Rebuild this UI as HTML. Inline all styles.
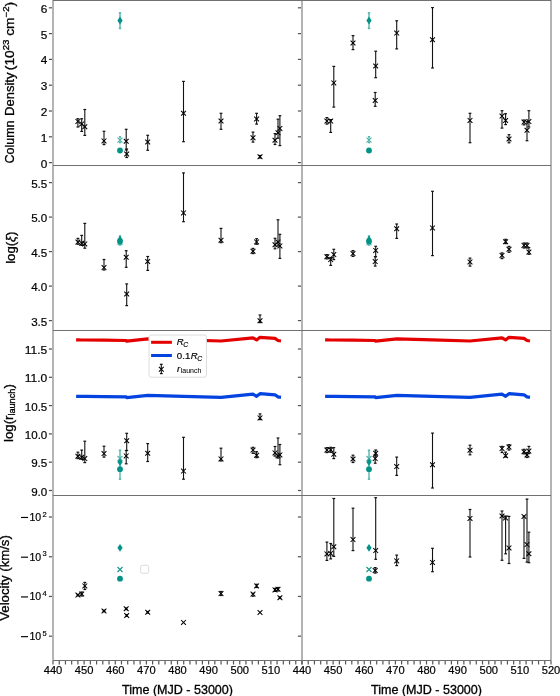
<!DOCTYPE html>
<html><head><meta charset="utf-8"><title>figure</title>
<style>html,body{margin:0;padding:0;background:#fff;}svg{display:block;will-change:transform;}text{stroke:#000;stroke-width:0.18px;fill:#000;}text.big{stroke-width:0.3px;}text.thin{stroke-width:0.05px;}</style>
</head><body>
<svg width="560" height="696" viewBox="0 0 560 696" font-family='"Liberation Sans", sans-serif'>
<rect x="0" y="0" width="560" height="696" fill="#fff"/>
<polyline points="76.10,339.90 77.90,339.90 81.70,340.00 84.80,340.00 104.00,340.20 126.20,340.50 126.70,341.20 147.90,338.90 183.50,339.90 221.00,341.00 253.00,337.80 256.60,339.90 260.00,337.30 275.00,338.40 278.00,340.50 281.00,341.00" fill="none" stroke="#e50000" stroke-width="3.2" stroke-linejoin="round" stroke-linecap="butt"/>
<polyline points="76.10,396.30 77.90,396.30 81.70,396.40 84.80,396.40 104.00,396.60 126.20,396.90 126.70,397.60 147.90,395.30 183.50,396.30 221.00,397.40 253.00,394.20 256.60,396.30 260.00,393.70 275.00,394.80 278.00,396.90 281.00,397.40" fill="none" stroke="#0343df" stroke-width="3.2" stroke-linejoin="round" stroke-linecap="butt"/>
<polyline points="325.10,339.90 326.90,339.90 330.70,340.00 333.80,340.00 353.00,340.20 375.20,340.50 375.70,341.20 396.90,338.90 432.50,339.90 470.00,341.00 502.00,337.80 505.60,339.90 509.00,337.30 524.00,338.40 527.00,340.50 530.00,341.00" fill="none" stroke="#e50000" stroke-width="3.2" stroke-linejoin="round" stroke-linecap="butt"/>
<polyline points="325.10,396.30 326.90,396.30 330.70,396.40 333.80,396.40 353.00,396.60 375.20,396.90 375.70,397.60 396.90,395.30 432.50,396.30 470.00,397.40 502.00,394.20 505.60,396.30 509.00,393.70 524.00,394.80 527.00,396.90 530.00,397.40" fill="none" stroke="#0343df" stroke-width="3.2" stroke-linejoin="round" stroke-linecap="butt"/>
<line x1="120.00" y1="12.90" x2="120.00" y2="28.40" stroke="#55b5ac" stroke-width="1.4"/>
<line x1="118.80" y1="12.90" x2="121.20" y2="12.90" stroke="#55b5ac" stroke-width="1.6"/>
<line x1="118.80" y1="28.40" x2="121.20" y2="28.40" stroke="#55b5ac" stroke-width="1.6"/>
<line x1="120.00" y1="136.70" x2="120.00" y2="142.60" stroke="#55b5ac" stroke-width="1.2"/>
<line x1="118.90" y1="136.70" x2="121.10" y2="136.70" stroke="#55b5ac" stroke-width="1.4"/>
<line x1="118.90" y1="142.60" x2="121.10" y2="142.60" stroke="#55b5ac" stroke-width="1.4"/>
<path d="M117.50,137.70L122.50,142.70M117.50,142.70L122.50,137.70" stroke="#55b5ac" stroke-width="1.15" fill="none"/>
<circle cx="120.00" cy="150.50" r="2.9" fill="#029386"/>
<path d="M120.00,16.60L122.60,20.50L120.00,24.40L117.40,20.50Z" fill="#029386"/>
<line x1="77.90" y1="118.70" x2="77.90" y2="127.00" stroke="#111" stroke-width="1.1"/>
<line x1="76.50" y1="118.70" x2="79.30" y2="118.70" stroke="#111" stroke-width="1.2"/>
<line x1="76.50" y1="127.00" x2="79.30" y2="127.00" stroke="#111" stroke-width="1.2"/>
<path d="M75.50,119.00L80.30,123.80M75.50,123.80L80.30,119.00" stroke="#000" stroke-width="1.05" fill="none"/>
<line x1="81.70" y1="118.70" x2="81.70" y2="131.40" stroke="#111" stroke-width="1.1"/>
<line x1="80.30" y1="118.70" x2="83.10" y2="118.70" stroke="#111" stroke-width="1.2"/>
<line x1="80.30" y1="131.40" x2="83.10" y2="131.40" stroke="#111" stroke-width="1.2"/>
<path d="M79.30,121.50L84.10,126.30M79.30,126.30L84.10,121.50" stroke="#000" stroke-width="1.05" fill="none"/>
<line x1="84.80" y1="109.50" x2="84.80" y2="135.40" stroke="#111" stroke-width="1.1"/>
<line x1="83.40" y1="109.50" x2="86.20" y2="109.50" stroke="#111" stroke-width="1.2"/>
<line x1="83.40" y1="135.40" x2="86.20" y2="135.40" stroke="#111" stroke-width="1.2"/>
<path d="M82.40,124.40L87.20,129.20M82.40,129.20L87.20,124.40" stroke="#000" stroke-width="1.05" fill="none"/>
<line x1="104.00" y1="131.30" x2="104.00" y2="144.60" stroke="#111" stroke-width="1.1"/>
<line x1="102.60" y1="131.30" x2="105.40" y2="131.30" stroke="#111" stroke-width="1.2"/>
<line x1="102.60" y1="144.60" x2="105.40" y2="144.60" stroke="#111" stroke-width="1.2"/>
<path d="M101.60,138.50L106.40,143.30M101.60,143.30L106.40,138.50" stroke="#000" stroke-width="1.05" fill="none"/>
<line x1="126.20" y1="129.30" x2="126.20" y2="150.00" stroke="#111" stroke-width="1.1"/>
<line x1="124.80" y1="129.30" x2="127.60" y2="129.30" stroke="#111" stroke-width="1.2"/>
<line x1="124.80" y1="150.00" x2="127.60" y2="150.00" stroke="#111" stroke-width="1.2"/>
<path d="M123.80,138.90L128.60,143.70M123.80,143.70L128.60,138.90" stroke="#000" stroke-width="1.05" fill="none"/>
<line x1="126.70" y1="149.00" x2="126.70" y2="157.50" stroke="#111" stroke-width="1.1"/>
<line x1="125.30" y1="149.00" x2="128.10" y2="149.00" stroke="#111" stroke-width="1.2"/>
<line x1="125.30" y1="157.50" x2="128.10" y2="157.50" stroke="#111" stroke-width="1.2"/>
<path d="M124.30,151.60L129.10,156.40M124.30,156.40L129.10,151.60" stroke="#000" stroke-width="1.05" fill="none"/>
<line x1="147.70" y1="135.30" x2="147.70" y2="150.30" stroke="#111" stroke-width="1.1"/>
<line x1="146.30" y1="135.30" x2="149.10" y2="135.30" stroke="#111" stroke-width="1.2"/>
<line x1="146.30" y1="150.30" x2="149.10" y2="150.30" stroke="#111" stroke-width="1.2"/>
<path d="M145.30,139.60L150.10,144.40M145.30,144.40L150.10,139.60" stroke="#000" stroke-width="1.05" fill="none"/>
<line x1="183.50" y1="81.40" x2="183.50" y2="141.70" stroke="#111" stroke-width="1.1"/>
<line x1="182.10" y1="81.40" x2="184.90" y2="81.40" stroke="#111" stroke-width="1.2"/>
<line x1="182.10" y1="141.70" x2="184.90" y2="141.70" stroke="#111" stroke-width="1.2"/>
<path d="M181.10,110.90L185.90,115.70M181.10,115.70L185.90,110.90" stroke="#000" stroke-width="1.05" fill="none"/>
<line x1="221.00" y1="113.30" x2="221.00" y2="129.30" stroke="#111" stroke-width="1.1"/>
<line x1="219.60" y1="113.30" x2="222.40" y2="113.30" stroke="#111" stroke-width="1.2"/>
<line x1="219.60" y1="129.30" x2="222.40" y2="129.30" stroke="#111" stroke-width="1.2"/>
<path d="M218.60,118.60L223.40,123.40M218.60,123.40L223.40,118.60" stroke="#000" stroke-width="1.05" fill="none"/>
<line x1="253.00" y1="132.10" x2="253.00" y2="142.10" stroke="#111" stroke-width="1.1"/>
<line x1="251.60" y1="132.10" x2="254.40" y2="132.10" stroke="#111" stroke-width="1.2"/>
<line x1="251.60" y1="142.10" x2="254.40" y2="142.10" stroke="#111" stroke-width="1.2"/>
<path d="M250.60,135.30L255.40,140.10M250.60,140.10L255.40,135.30" stroke="#000" stroke-width="1.05" fill="none"/>
<line x1="256.60" y1="113.30" x2="256.60" y2="124.10" stroke="#111" stroke-width="1.1"/>
<line x1="255.20" y1="113.30" x2="258.00" y2="113.30" stroke="#111" stroke-width="1.2"/>
<line x1="255.20" y1="124.10" x2="258.00" y2="124.10" stroke="#111" stroke-width="1.2"/>
<path d="M254.20,116.60L259.00,121.40M254.20,121.40L259.00,116.60" stroke="#000" stroke-width="1.05" fill="none"/>
<line x1="260.00" y1="155.50" x2="260.00" y2="158.00" stroke="#111" stroke-width="1.1"/>
<line x1="258.60" y1="155.50" x2="261.40" y2="155.50" stroke="#111" stroke-width="1.2"/>
<line x1="258.60" y1="158.00" x2="261.40" y2="158.00" stroke="#111" stroke-width="1.2"/>
<path d="M257.60,154.30L262.40,159.10M257.60,159.10L262.40,154.30" stroke="#000" stroke-width="1.05" fill="none"/>
<line x1="275.00" y1="133.60" x2="275.00" y2="144.50" stroke="#111" stroke-width="1.1"/>
<line x1="273.60" y1="133.60" x2="276.40" y2="133.60" stroke="#111" stroke-width="1.2"/>
<line x1="273.60" y1="144.50" x2="276.40" y2="144.50" stroke="#111" stroke-width="1.2"/>
<path d="M272.60,137.80L277.40,142.60M272.60,142.60L277.40,137.80" stroke="#000" stroke-width="1.05" fill="none"/>
<line x1="278.00" y1="119.20" x2="278.00" y2="138.20" stroke="#111" stroke-width="1.1"/>
<line x1="276.60" y1="119.20" x2="279.40" y2="119.20" stroke="#111" stroke-width="1.2"/>
<line x1="276.60" y1="138.20" x2="279.40" y2="138.20" stroke="#111" stroke-width="1.2"/>
<path d="M275.60,130.30L280.40,135.10M275.60,135.10L280.40,130.30" stroke="#000" stroke-width="1.05" fill="none"/>
<line x1="279.90" y1="115.70" x2="279.90" y2="145.60" stroke="#111" stroke-width="1.1"/>
<line x1="278.50" y1="115.70" x2="281.30" y2="115.70" stroke="#111" stroke-width="1.2"/>
<line x1="278.50" y1="145.60" x2="281.30" y2="145.60" stroke="#111" stroke-width="1.2"/>
<path d="M277.50,126.00L282.30,130.80M277.50,130.80L282.30,126.00" stroke="#000" stroke-width="1.05" fill="none"/>
<line x1="369.00" y1="12.90" x2="369.00" y2="28.40" stroke="#55b5ac" stroke-width="1.4"/>
<line x1="367.80" y1="12.90" x2="370.20" y2="12.90" stroke="#55b5ac" stroke-width="1.6"/>
<line x1="367.80" y1="28.40" x2="370.20" y2="28.40" stroke="#55b5ac" stroke-width="1.6"/>
<line x1="369.00" y1="136.70" x2="369.00" y2="142.60" stroke="#55b5ac" stroke-width="1.2"/>
<line x1="367.90" y1="136.70" x2="370.10" y2="136.70" stroke="#55b5ac" stroke-width="1.4"/>
<line x1="367.90" y1="142.60" x2="370.10" y2="142.60" stroke="#55b5ac" stroke-width="1.4"/>
<path d="M366.50,137.70L371.50,142.70M366.50,142.70L371.50,137.70" stroke="#55b5ac" stroke-width="1.15" fill="none"/>
<circle cx="369.00" cy="150.50" r="2.9" fill="#029386"/>
<path d="M369.00,16.60L371.60,20.50L369.00,24.40L366.40,20.50Z" fill="#029386"/>
<line x1="326.90" y1="117.60" x2="326.90" y2="124.10" stroke="#111" stroke-width="1.1"/>
<line x1="325.50" y1="117.60" x2="328.30" y2="117.60" stroke="#111" stroke-width="1.2"/>
<line x1="325.50" y1="124.10" x2="328.30" y2="124.10" stroke="#111" stroke-width="1.2"/>
<path d="M324.50,118.70L329.30,123.50M324.50,123.50L329.30,118.70" stroke="#000" stroke-width="1.05" fill="none"/>
<line x1="330.70" y1="119.60" x2="330.70" y2="132.40" stroke="#111" stroke-width="1.1"/>
<line x1="329.30" y1="119.60" x2="332.10" y2="119.60" stroke="#111" stroke-width="1.2"/>
<line x1="329.30" y1="132.40" x2="332.10" y2="132.40" stroke="#111" stroke-width="1.2"/>
<path d="M328.30,118.70L333.10,123.50M328.30,123.50L333.10,118.70" stroke="#000" stroke-width="1.05" fill="none"/>
<line x1="333.80" y1="66.40" x2="333.80" y2="107.10" stroke="#111" stroke-width="1.1"/>
<line x1="332.40" y1="66.40" x2="335.20" y2="66.40" stroke="#111" stroke-width="1.2"/>
<line x1="332.40" y1="107.10" x2="335.20" y2="107.10" stroke="#111" stroke-width="1.2"/>
<path d="M331.40,80.50L336.20,85.30M331.40,85.30L336.20,80.50" stroke="#000" stroke-width="1.05" fill="none"/>
<line x1="353.00" y1="35.60" x2="353.00" y2="49.60" stroke="#111" stroke-width="1.1"/>
<line x1="351.60" y1="35.60" x2="354.40" y2="35.60" stroke="#111" stroke-width="1.2"/>
<line x1="351.60" y1="49.60" x2="354.40" y2="49.60" stroke="#111" stroke-width="1.2"/>
<path d="M350.60,40.60L355.40,45.40M350.60,45.40L355.40,40.60" stroke="#000" stroke-width="1.05" fill="none"/>
<line x1="375.20" y1="92.50" x2="375.20" y2="106.30" stroke="#111" stroke-width="1.1"/>
<line x1="373.80" y1="92.50" x2="376.60" y2="92.50" stroke="#111" stroke-width="1.2"/>
<line x1="373.80" y1="106.30" x2="376.60" y2="106.30" stroke="#111" stroke-width="1.2"/>
<path d="M372.80,98.10L377.60,102.90M372.80,102.90L377.60,98.10" stroke="#000" stroke-width="1.05" fill="none"/>
<line x1="375.70" y1="51.20" x2="375.70" y2="77.70" stroke="#111" stroke-width="1.1"/>
<line x1="374.30" y1="51.20" x2="377.10" y2="51.20" stroke="#111" stroke-width="1.2"/>
<line x1="374.30" y1="77.70" x2="377.10" y2="77.70" stroke="#111" stroke-width="1.2"/>
<path d="M373.30,63.60L378.10,68.40M373.30,68.40L378.10,63.60" stroke="#000" stroke-width="1.05" fill="none"/>
<line x1="396.70" y1="20.80" x2="396.70" y2="48.90" stroke="#111" stroke-width="1.1"/>
<line x1="395.30" y1="20.80" x2="398.10" y2="20.80" stroke="#111" stroke-width="1.2"/>
<line x1="395.30" y1="48.90" x2="398.10" y2="48.90" stroke="#111" stroke-width="1.2"/>
<path d="M394.30,30.70L399.10,35.50M394.30,35.50L399.10,30.70" stroke="#000" stroke-width="1.05" fill="none"/>
<line x1="432.50" y1="7.60" x2="432.50" y2="68.00" stroke="#111" stroke-width="1.1"/>
<line x1="431.10" y1="7.60" x2="433.90" y2="7.60" stroke="#111" stroke-width="1.2"/>
<line x1="431.10" y1="68.00" x2="433.90" y2="68.00" stroke="#111" stroke-width="1.2"/>
<path d="M430.10,37.40L434.90,42.20M430.10,42.20L434.90,37.40" stroke="#000" stroke-width="1.05" fill="none"/>
<line x1="470.00" y1="113.30" x2="470.00" y2="142.70" stroke="#111" stroke-width="1.1"/>
<line x1="468.60" y1="113.30" x2="471.40" y2="113.30" stroke="#111" stroke-width="1.2"/>
<line x1="468.60" y1="142.70" x2="471.40" y2="142.70" stroke="#111" stroke-width="1.2"/>
<path d="M467.60,118.00L472.40,122.80M467.60,122.80L472.40,118.00" stroke="#000" stroke-width="1.05" fill="none"/>
<line x1="502.00" y1="110.70" x2="502.00" y2="128.10" stroke="#111" stroke-width="1.1"/>
<line x1="500.60" y1="110.70" x2="503.40" y2="110.70" stroke="#111" stroke-width="1.2"/>
<line x1="500.60" y1="128.10" x2="503.40" y2="128.10" stroke="#111" stroke-width="1.2"/>
<path d="M499.60,113.70L504.40,118.50M499.60,118.50L504.40,113.70" stroke="#000" stroke-width="1.05" fill="none"/>
<line x1="505.60" y1="113.70" x2="505.60" y2="124.60" stroke="#111" stroke-width="1.1"/>
<line x1="504.20" y1="113.70" x2="507.00" y2="113.70" stroke="#111" stroke-width="1.2"/>
<line x1="504.20" y1="124.60" x2="507.00" y2="124.60" stroke="#111" stroke-width="1.2"/>
<path d="M503.20,118.10L508.00,122.90M503.20,122.90L508.00,118.10" stroke="#000" stroke-width="1.05" fill="none"/>
<line x1="509.00" y1="134.70" x2="509.00" y2="142.80" stroke="#111" stroke-width="1.1"/>
<line x1="507.60" y1="134.70" x2="510.40" y2="134.70" stroke="#111" stroke-width="1.2"/>
<line x1="507.60" y1="142.80" x2="510.40" y2="142.80" stroke="#111" stroke-width="1.2"/>
<path d="M506.60,136.60L511.40,141.40M506.60,141.40L511.40,136.60" stroke="#000" stroke-width="1.05" fill="none"/>
<line x1="524.00" y1="120.00" x2="524.00" y2="124.90" stroke="#111" stroke-width="1.1"/>
<line x1="522.60" y1="120.00" x2="525.40" y2="120.00" stroke="#111" stroke-width="1.2"/>
<line x1="522.60" y1="124.90" x2="525.40" y2="124.90" stroke="#111" stroke-width="1.2"/>
<path d="M521.60,119.70L526.40,124.50M521.60,124.50L526.40,119.70" stroke="#000" stroke-width="1.05" fill="none"/>
<line x1="527.00" y1="121.60" x2="527.00" y2="140.70" stroke="#111" stroke-width="1.1"/>
<line x1="525.60" y1="121.60" x2="528.40" y2="121.60" stroke="#111" stroke-width="1.2"/>
<line x1="525.60" y1="140.70" x2="528.40" y2="140.70" stroke="#111" stroke-width="1.2"/>
<path d="M524.60,127.90L529.40,132.70M524.60,132.70L529.40,127.90" stroke="#000" stroke-width="1.05" fill="none"/>
<line x1="528.90" y1="110.70" x2="528.90" y2="127.00" stroke="#111" stroke-width="1.1"/>
<line x1="527.50" y1="110.70" x2="530.30" y2="110.70" stroke="#111" stroke-width="1.2"/>
<line x1="527.50" y1="127.00" x2="530.30" y2="127.00" stroke="#111" stroke-width="1.2"/>
<path d="M526.50,119.20L531.30,124.00M526.50,124.00L531.30,119.20" stroke="#000" stroke-width="1.05" fill="none"/>
<line x1="120.00" y1="236.00" x2="120.00" y2="245.00" stroke="#55b5ac" stroke-width="1.4"/>
<line x1="118.80" y1="236.00" x2="121.20" y2="236.00" stroke="#55b5ac" stroke-width="1.6"/>
<line x1="118.80" y1="245.00" x2="121.20" y2="245.00" stroke="#55b5ac" stroke-width="1.6"/>
<path d="M117.50,240.10L122.50,245.10M117.50,245.10L122.50,240.10" stroke="#55b5ac" stroke-width="1.15" fill="none"/>
<circle cx="120.00" cy="241.40" r="2.9" fill="#029386"/>
<path d="M120.00,235.70L122.60,239.60L120.00,243.50L117.40,239.60Z" fill="#029386"/>
<line x1="77.90" y1="238.40" x2="77.90" y2="244.30" stroke="#111" stroke-width="1.1"/>
<line x1="76.50" y1="238.40" x2="79.30" y2="238.40" stroke="#111" stroke-width="1.2"/>
<line x1="76.50" y1="244.30" x2="79.30" y2="244.30" stroke="#111" stroke-width="1.2"/>
<path d="M75.50,239.70L80.30,244.50M75.50,244.50L80.30,239.70" stroke="#000" stroke-width="1.05" fill="none"/>
<line x1="81.70" y1="235.40" x2="81.70" y2="245.40" stroke="#111" stroke-width="1.1"/>
<line x1="80.30" y1="235.40" x2="83.10" y2="235.40" stroke="#111" stroke-width="1.2"/>
<line x1="80.30" y1="245.40" x2="83.10" y2="245.40" stroke="#111" stroke-width="1.2"/>
<path d="M79.30,240.80L84.10,245.60M79.30,245.60L84.10,240.80" stroke="#000" stroke-width="1.05" fill="none"/>
<line x1="84.80" y1="223.40" x2="84.80" y2="248.20" stroke="#111" stroke-width="1.1"/>
<line x1="83.40" y1="223.40" x2="86.20" y2="223.40" stroke="#111" stroke-width="1.2"/>
<line x1="83.40" y1="248.20" x2="86.20" y2="248.20" stroke="#111" stroke-width="1.2"/>
<path d="M82.40,241.50L87.20,246.30M82.40,246.30L87.20,241.50" stroke="#000" stroke-width="1.05" fill="none"/>
<line x1="104.00" y1="259.50" x2="104.00" y2="270.00" stroke="#111" stroke-width="1.1"/>
<line x1="102.60" y1="259.50" x2="105.40" y2="259.50" stroke="#111" stroke-width="1.2"/>
<line x1="102.60" y1="270.00" x2="105.40" y2="270.00" stroke="#111" stroke-width="1.2"/>
<path d="M101.60,265.20L106.40,270.00M101.60,270.00L106.40,265.20" stroke="#000" stroke-width="1.05" fill="none"/>
<line x1="126.20" y1="250.70" x2="126.20" y2="267.30" stroke="#111" stroke-width="1.1"/>
<line x1="124.80" y1="250.70" x2="127.60" y2="250.70" stroke="#111" stroke-width="1.2"/>
<line x1="124.80" y1="267.30" x2="127.60" y2="267.30" stroke="#111" stroke-width="1.2"/>
<path d="M123.80,254.80L128.60,259.60M123.80,259.60L128.60,254.80" stroke="#000" stroke-width="1.05" fill="none"/>
<line x1="126.70" y1="283.90" x2="126.70" y2="305.60" stroke="#111" stroke-width="1.1"/>
<line x1="125.30" y1="283.90" x2="128.10" y2="283.90" stroke="#111" stroke-width="1.2"/>
<line x1="125.30" y1="305.60" x2="128.10" y2="305.60" stroke="#111" stroke-width="1.2"/>
<path d="M124.30,291.60L129.10,296.40M124.30,296.40L129.10,291.60" stroke="#000" stroke-width="1.05" fill="none"/>
<line x1="147.70" y1="256.50" x2="147.70" y2="270.40" stroke="#111" stroke-width="1.1"/>
<line x1="146.30" y1="256.50" x2="149.10" y2="256.50" stroke="#111" stroke-width="1.2"/>
<line x1="146.30" y1="270.40" x2="149.10" y2="270.40" stroke="#111" stroke-width="1.2"/>
<path d="M145.30,259.10L150.10,263.90M145.30,263.90L150.10,259.10" stroke="#000" stroke-width="1.05" fill="none"/>
<line x1="183.50" y1="172.90" x2="183.50" y2="221.70" stroke="#111" stroke-width="1.1"/>
<line x1="182.10" y1="172.90" x2="184.90" y2="172.90" stroke="#111" stroke-width="1.2"/>
<line x1="182.10" y1="221.70" x2="184.90" y2="221.70" stroke="#111" stroke-width="1.2"/>
<path d="M181.10,210.50L185.90,215.30M181.10,215.30L185.90,210.50" stroke="#000" stroke-width="1.05" fill="none"/>
<line x1="221.00" y1="228.40" x2="221.00" y2="242.70" stroke="#111" stroke-width="1.1"/>
<line x1="219.60" y1="228.40" x2="222.40" y2="228.40" stroke="#111" stroke-width="1.2"/>
<line x1="219.60" y1="242.70" x2="222.40" y2="242.70" stroke="#111" stroke-width="1.2"/>
<path d="M218.60,237.90L223.40,242.70M218.60,242.70L223.40,237.90" stroke="#000" stroke-width="1.05" fill="none"/>
<line x1="253.00" y1="248.40" x2="253.00" y2="253.60" stroke="#111" stroke-width="1.1"/>
<line x1="251.60" y1="248.40" x2="254.40" y2="248.40" stroke="#111" stroke-width="1.2"/>
<line x1="251.60" y1="253.60" x2="254.40" y2="253.60" stroke="#111" stroke-width="1.2"/>
<path d="M250.60,248.80L255.40,253.60M250.60,253.60L255.40,248.80" stroke="#000" stroke-width="1.05" fill="none"/>
<line x1="256.60" y1="238.70" x2="256.60" y2="244.30" stroke="#111" stroke-width="1.1"/>
<line x1="255.20" y1="238.70" x2="258.00" y2="238.70" stroke="#111" stroke-width="1.2"/>
<line x1="255.20" y1="244.30" x2="258.00" y2="244.30" stroke="#111" stroke-width="1.2"/>
<path d="M254.20,239.50L259.00,244.30M254.20,244.30L259.00,239.50" stroke="#000" stroke-width="1.05" fill="none"/>
<line x1="260.00" y1="315.00" x2="260.00" y2="322.60" stroke="#111" stroke-width="1.1"/>
<line x1="258.60" y1="315.00" x2="261.40" y2="315.00" stroke="#111" stroke-width="1.2"/>
<line x1="258.60" y1="322.60" x2="261.40" y2="322.60" stroke="#111" stroke-width="1.2"/>
<path d="M257.60,318.40L262.40,323.20M257.60,323.20L262.40,318.40" stroke="#000" stroke-width="1.05" fill="none"/>
<line x1="275.00" y1="238.30" x2="275.00" y2="248.80" stroke="#111" stroke-width="1.1"/>
<line x1="273.60" y1="238.30" x2="276.40" y2="238.30" stroke="#111" stroke-width="1.2"/>
<line x1="273.60" y1="248.80" x2="276.40" y2="248.80" stroke="#111" stroke-width="1.2"/>
<path d="M272.60,242.30L277.40,247.10M272.60,247.10L277.40,242.30" stroke="#000" stroke-width="1.05" fill="none"/>
<line x1="278.00" y1="219.80" x2="278.00" y2="246.00" stroke="#111" stroke-width="1.1"/>
<line x1="276.60" y1="219.80" x2="279.40" y2="219.80" stroke="#111" stroke-width="1.2"/>
<line x1="276.60" y1="246.00" x2="279.40" y2="246.00" stroke="#111" stroke-width="1.2"/>
<path d="M275.60,239.60L280.40,244.40M275.60,244.40L280.40,239.60" stroke="#000" stroke-width="1.05" fill="none"/>
<line x1="279.90" y1="234.30" x2="279.90" y2="258.40" stroke="#111" stroke-width="1.1"/>
<line x1="278.50" y1="234.30" x2="281.30" y2="234.30" stroke="#111" stroke-width="1.2"/>
<line x1="278.50" y1="258.40" x2="281.30" y2="258.40" stroke="#111" stroke-width="1.2"/>
<path d="M277.50,243.50L282.30,248.30M277.50,248.30L282.30,243.50" stroke="#000" stroke-width="1.05" fill="none"/>
<line x1="369.00" y1="236.00" x2="369.00" y2="245.00" stroke="#55b5ac" stroke-width="1.4"/>
<line x1="367.80" y1="236.00" x2="370.20" y2="236.00" stroke="#55b5ac" stroke-width="1.6"/>
<line x1="367.80" y1="245.00" x2="370.20" y2="245.00" stroke="#55b5ac" stroke-width="1.6"/>
<path d="M366.50,240.10L371.50,245.10M366.50,245.10L371.50,240.10" stroke="#55b5ac" stroke-width="1.15" fill="none"/>
<circle cx="369.00" cy="241.40" r="2.9" fill="#029386"/>
<path d="M369.00,235.70L371.60,239.60L369.00,243.50L366.40,239.60Z" fill="#029386"/>
<line x1="326.90" y1="254.60" x2="326.90" y2="258.90" stroke="#111" stroke-width="1.1"/>
<line x1="325.50" y1="254.60" x2="328.30" y2="254.60" stroke="#111" stroke-width="1.2"/>
<line x1="325.50" y1="258.90" x2="328.30" y2="258.90" stroke="#111" stroke-width="1.2"/>
<path d="M324.50,254.40L329.30,259.20M324.50,259.20L329.30,254.40" stroke="#000" stroke-width="1.05" fill="none"/>
<line x1="330.70" y1="257.50" x2="330.70" y2="265.40" stroke="#111" stroke-width="1.1"/>
<line x1="329.30" y1="257.50" x2="332.10" y2="257.50" stroke="#111" stroke-width="1.2"/>
<line x1="329.30" y1="265.40" x2="332.10" y2="265.40" stroke="#111" stroke-width="1.2"/>
<path d="M328.30,257.20L333.10,262.00M328.30,262.00L333.10,257.20" stroke="#000" stroke-width="1.05" fill="none"/>
<line x1="333.80" y1="249.30" x2="333.80" y2="259.60" stroke="#111" stroke-width="1.1"/>
<line x1="332.40" y1="249.30" x2="335.20" y2="249.30" stroke="#111" stroke-width="1.2"/>
<line x1="332.40" y1="259.60" x2="335.20" y2="259.60" stroke="#111" stroke-width="1.2"/>
<path d="M331.40,252.20L336.20,257.00M331.40,257.00L336.20,252.20" stroke="#000" stroke-width="1.05" fill="none"/>
<line x1="353.00" y1="250.60" x2="353.00" y2="256.40" stroke="#111" stroke-width="1.1"/>
<line x1="351.60" y1="250.60" x2="354.40" y2="250.60" stroke="#111" stroke-width="1.2"/>
<line x1="351.60" y1="256.40" x2="354.40" y2="256.40" stroke="#111" stroke-width="1.2"/>
<path d="M350.60,251.20L355.40,256.00M350.60,256.00L355.40,251.20" stroke="#000" stroke-width="1.05" fill="none"/>
<line x1="375.20" y1="256.70" x2="375.20" y2="266.10" stroke="#111" stroke-width="1.1"/>
<line x1="373.80" y1="256.70" x2="376.60" y2="256.70" stroke="#111" stroke-width="1.2"/>
<line x1="373.80" y1="266.10" x2="376.60" y2="266.10" stroke="#111" stroke-width="1.2"/>
<path d="M372.80,259.20L377.60,264.00M372.80,264.00L377.60,259.20" stroke="#000" stroke-width="1.05" fill="none"/>
<line x1="375.70" y1="246.30" x2="375.70" y2="256.70" stroke="#111" stroke-width="1.1"/>
<line x1="374.30" y1="246.30" x2="377.10" y2="246.30" stroke="#111" stroke-width="1.2"/>
<line x1="374.30" y1="256.70" x2="377.10" y2="256.70" stroke="#111" stroke-width="1.2"/>
<path d="M373.30,248.00L378.10,252.80M373.30,252.80L378.10,248.00" stroke="#000" stroke-width="1.05" fill="none"/>
<line x1="396.70" y1="224.00" x2="396.70" y2="238.40" stroke="#111" stroke-width="1.1"/>
<line x1="395.30" y1="224.00" x2="398.10" y2="224.00" stroke="#111" stroke-width="1.2"/>
<line x1="395.30" y1="238.40" x2="398.10" y2="238.40" stroke="#111" stroke-width="1.2"/>
<path d="M394.30,226.40L399.10,231.20M394.30,231.20L399.10,226.40" stroke="#000" stroke-width="1.05" fill="none"/>
<line x1="432.50" y1="191.30" x2="432.50" y2="255.60" stroke="#111" stroke-width="1.1"/>
<line x1="431.10" y1="191.30" x2="433.90" y2="191.30" stroke="#111" stroke-width="1.2"/>
<line x1="431.10" y1="255.60" x2="433.90" y2="255.60" stroke="#111" stroke-width="1.2"/>
<path d="M430.10,225.50L434.90,230.30M430.10,230.30L434.90,225.50" stroke="#000" stroke-width="1.05" fill="none"/>
<line x1="470.00" y1="258.10" x2="470.00" y2="266.10" stroke="#111" stroke-width="1.1"/>
<line x1="468.60" y1="258.10" x2="471.40" y2="258.10" stroke="#111" stroke-width="1.2"/>
<line x1="468.60" y1="266.10" x2="471.40" y2="266.10" stroke="#111" stroke-width="1.2"/>
<path d="M467.60,259.50L472.40,264.30M467.60,264.30L472.40,259.50" stroke="#000" stroke-width="1.05" fill="none"/>
<line x1="502.00" y1="252.90" x2="502.00" y2="258.60" stroke="#111" stroke-width="1.1"/>
<line x1="500.60" y1="252.90" x2="503.40" y2="252.90" stroke="#111" stroke-width="1.2"/>
<line x1="500.60" y1="258.60" x2="503.40" y2="258.60" stroke="#111" stroke-width="1.2"/>
<path d="M499.60,253.00L504.40,257.80M499.60,257.80L504.40,253.00" stroke="#000" stroke-width="1.05" fill="none"/>
<line x1="505.60" y1="239.30" x2="505.60" y2="243.60" stroke="#111" stroke-width="1.1"/>
<line x1="504.20" y1="239.30" x2="507.00" y2="239.30" stroke="#111" stroke-width="1.2"/>
<line x1="504.20" y1="243.60" x2="507.00" y2="243.60" stroke="#111" stroke-width="1.2"/>
<path d="M503.20,239.40L508.00,244.20M503.20,244.20L508.00,239.40" stroke="#000" stroke-width="1.05" fill="none"/>
<line x1="509.00" y1="246.40" x2="509.00" y2="252.30" stroke="#111" stroke-width="1.1"/>
<line x1="507.60" y1="246.40" x2="510.40" y2="246.40" stroke="#111" stroke-width="1.2"/>
<line x1="507.60" y1="252.30" x2="510.40" y2="252.30" stroke="#111" stroke-width="1.2"/>
<path d="M506.60,246.90L511.40,251.70M506.60,251.70L511.40,246.90" stroke="#000" stroke-width="1.05" fill="none"/>
<line x1="524.00" y1="243.00" x2="524.00" y2="248.00" stroke="#111" stroke-width="1.1"/>
<line x1="522.60" y1="243.00" x2="525.40" y2="243.00" stroke="#111" stroke-width="1.2"/>
<line x1="522.60" y1="248.00" x2="525.40" y2="248.00" stroke="#111" stroke-width="1.2"/>
<path d="M521.60,243.00L526.40,247.80M521.60,247.80L526.40,243.00" stroke="#000" stroke-width="1.05" fill="none"/>
<line x1="527.00" y1="243.00" x2="527.00" y2="248.00" stroke="#111" stroke-width="1.1"/>
<line x1="525.60" y1="243.00" x2="528.40" y2="243.00" stroke="#111" stroke-width="1.2"/>
<line x1="525.60" y1="248.00" x2="528.40" y2="248.00" stroke="#111" stroke-width="1.2"/>
<path d="M524.60,243.20L529.40,248.00M524.60,248.00L529.40,243.20" stroke="#000" stroke-width="1.05" fill="none"/>
<line x1="528.90" y1="247.50" x2="528.90" y2="254.30" stroke="#111" stroke-width="1.1"/>
<line x1="527.50" y1="247.50" x2="530.30" y2="247.50" stroke="#111" stroke-width="1.2"/>
<line x1="527.50" y1="254.30" x2="530.30" y2="254.30" stroke="#111" stroke-width="1.2"/>
<path d="M526.50,249.70L531.30,254.50M526.50,254.50L531.30,249.70" stroke="#000" stroke-width="1.05" fill="none"/>
<line x1="120.00" y1="450.30" x2="120.00" y2="479.10" stroke="#55b5ac" stroke-width="1.4"/>
<line x1="118.80" y1="450.30" x2="121.20" y2="450.30" stroke="#55b5ac" stroke-width="1.6"/>
<line x1="118.80" y1="479.10" x2="121.20" y2="479.10" stroke="#55b5ac" stroke-width="1.6"/>
<path d="M117.50,456.00L122.50,461.00M117.50,461.00L122.50,456.00" stroke="#55b5ac" stroke-width="1.15" fill="none"/>
<circle cx="120.00" cy="469.20" r="2.9" fill="#029386"/>
<path d="M120.00,458.20L122.60,462.10L120.00,466.00L117.40,462.10Z" fill="#029386"/>
<line x1="77.90" y1="452.20" x2="77.90" y2="458.60" stroke="#111" stroke-width="1.1"/>
<line x1="76.50" y1="452.20" x2="79.30" y2="452.20" stroke="#111" stroke-width="1.2"/>
<line x1="76.50" y1="458.60" x2="79.30" y2="458.60" stroke="#111" stroke-width="1.2"/>
<path d="M75.50,453.80L80.30,458.60M75.50,458.60L80.30,453.80" stroke="#000" stroke-width="1.05" fill="none"/>
<line x1="81.70" y1="450.10" x2="81.70" y2="459.40" stroke="#111" stroke-width="1.1"/>
<line x1="80.30" y1="450.10" x2="83.10" y2="450.10" stroke="#111" stroke-width="1.2"/>
<line x1="80.30" y1="459.40" x2="83.10" y2="459.40" stroke="#111" stroke-width="1.2"/>
<path d="M79.30,454.90L84.10,459.70M79.30,459.70L84.10,454.90" stroke="#000" stroke-width="1.05" fill="none"/>
<line x1="84.80" y1="441.20" x2="84.80" y2="462.60" stroke="#111" stroke-width="1.1"/>
<line x1="83.40" y1="441.20" x2="86.20" y2="441.20" stroke="#111" stroke-width="1.2"/>
<line x1="83.40" y1="462.60" x2="86.20" y2="462.60" stroke="#111" stroke-width="1.2"/>
<path d="M82.40,456.20L87.20,461.00M82.40,461.00L87.20,456.20" stroke="#000" stroke-width="1.05" fill="none"/>
<line x1="104.00" y1="446.20" x2="104.00" y2="457.10" stroke="#111" stroke-width="1.1"/>
<line x1="102.60" y1="446.20" x2="105.40" y2="446.20" stroke="#111" stroke-width="1.2"/>
<line x1="102.60" y1="457.10" x2="105.40" y2="457.10" stroke="#111" stroke-width="1.2"/>
<path d="M101.60,451.20L106.40,456.00M101.60,456.00L106.40,451.20" stroke="#000" stroke-width="1.05" fill="none"/>
<line x1="126.20" y1="450.50" x2="126.20" y2="463.80" stroke="#111" stroke-width="1.1"/>
<line x1="124.80" y1="450.50" x2="127.60" y2="450.50" stroke="#111" stroke-width="1.2"/>
<line x1="124.80" y1="463.80" x2="127.60" y2="463.80" stroke="#111" stroke-width="1.2"/>
<path d="M123.80,453.50L128.60,458.30M123.80,458.30L128.60,453.50" stroke="#000" stroke-width="1.05" fill="none"/>
<line x1="126.70" y1="433.30" x2="126.70" y2="450.50" stroke="#111" stroke-width="1.1"/>
<line x1="125.30" y1="433.30" x2="128.10" y2="433.30" stroke="#111" stroke-width="1.2"/>
<line x1="125.30" y1="450.50" x2="128.10" y2="450.50" stroke="#111" stroke-width="1.2"/>
<path d="M124.30,438.40L129.10,443.20M124.30,443.20L129.10,438.40" stroke="#000" stroke-width="1.05" fill="none"/>
<line x1="147.70" y1="443.60" x2="147.70" y2="461.50" stroke="#111" stroke-width="1.1"/>
<line x1="146.30" y1="443.60" x2="149.10" y2="443.60" stroke="#111" stroke-width="1.2"/>
<line x1="146.30" y1="461.50" x2="149.10" y2="461.50" stroke="#111" stroke-width="1.2"/>
<path d="M145.30,450.90L150.10,455.70M145.30,455.70L150.10,450.90" stroke="#000" stroke-width="1.05" fill="none"/>
<line x1="183.50" y1="437.30" x2="183.50" y2="479.20" stroke="#111" stroke-width="1.1"/>
<line x1="182.10" y1="437.30" x2="184.90" y2="437.30" stroke="#111" stroke-width="1.2"/>
<line x1="182.10" y1="479.20" x2="184.90" y2="479.20" stroke="#111" stroke-width="1.2"/>
<path d="M181.10,468.70L185.90,473.50M181.10,473.50L185.90,468.70" stroke="#000" stroke-width="1.05" fill="none"/>
<line x1="221.00" y1="448.20" x2="221.00" y2="461.00" stroke="#111" stroke-width="1.1"/>
<line x1="219.60" y1="448.20" x2="222.40" y2="448.20" stroke="#111" stroke-width="1.2"/>
<line x1="219.60" y1="461.00" x2="222.40" y2="461.00" stroke="#111" stroke-width="1.2"/>
<path d="M218.60,456.50L223.40,461.30M218.60,461.30L223.40,456.50" stroke="#000" stroke-width="1.05" fill="none"/>
<line x1="253.00" y1="447.30" x2="253.00" y2="453.30" stroke="#111" stroke-width="1.1"/>
<line x1="251.60" y1="447.30" x2="254.40" y2="447.30" stroke="#111" stroke-width="1.2"/>
<line x1="251.60" y1="453.30" x2="254.40" y2="453.30" stroke="#111" stroke-width="1.2"/>
<path d="M250.60,447.70L255.40,452.50M250.60,452.50L255.40,447.70" stroke="#000" stroke-width="1.05" fill="none"/>
<line x1="256.60" y1="451.70" x2="256.60" y2="457.70" stroke="#111" stroke-width="1.1"/>
<line x1="255.20" y1="451.70" x2="258.00" y2="451.70" stroke="#111" stroke-width="1.2"/>
<line x1="255.20" y1="457.70" x2="258.00" y2="457.70" stroke="#111" stroke-width="1.2"/>
<path d="M254.20,452.90L259.00,457.70M254.20,457.70L259.00,452.90" stroke="#000" stroke-width="1.05" fill="none"/>
<line x1="260.00" y1="413.90" x2="260.00" y2="419.60" stroke="#111" stroke-width="1.1"/>
<line x1="258.60" y1="413.90" x2="261.40" y2="413.90" stroke="#111" stroke-width="1.2"/>
<line x1="258.60" y1="419.60" x2="261.40" y2="419.60" stroke="#111" stroke-width="1.2"/>
<path d="M257.60,415.50L262.40,420.30M257.60,420.30L262.40,415.50" stroke="#000" stroke-width="1.05" fill="none"/>
<line x1="275.00" y1="446.50" x2="275.00" y2="456.10" stroke="#111" stroke-width="1.1"/>
<line x1="273.60" y1="446.50" x2="276.40" y2="446.50" stroke="#111" stroke-width="1.2"/>
<line x1="273.60" y1="456.10" x2="276.40" y2="456.10" stroke="#111" stroke-width="1.2"/>
<path d="M272.60,450.50L277.40,455.30M272.60,455.30L277.40,450.50" stroke="#000" stroke-width="1.05" fill="none"/>
<line x1="278.00" y1="438.00" x2="278.00" y2="458.10" stroke="#111" stroke-width="1.1"/>
<line x1="276.60" y1="438.00" x2="279.40" y2="438.00" stroke="#111" stroke-width="1.2"/>
<line x1="276.60" y1="458.10" x2="279.40" y2="458.10" stroke="#111" stroke-width="1.2"/>
<path d="M275.60,453.30L280.40,458.10M275.60,458.10L280.40,453.30" stroke="#000" stroke-width="1.05" fill="none"/>
<line x1="279.90" y1="444.50" x2="279.90" y2="464.70" stroke="#111" stroke-width="1.1"/>
<line x1="278.50" y1="444.50" x2="281.30" y2="444.50" stroke="#111" stroke-width="1.2"/>
<line x1="278.50" y1="464.70" x2="281.30" y2="464.70" stroke="#111" stroke-width="1.2"/>
<path d="M277.50,452.50L282.30,457.30M277.50,457.30L282.30,452.50" stroke="#000" stroke-width="1.05" fill="none"/>
<line x1="369.00" y1="450.30" x2="369.00" y2="479.10" stroke="#55b5ac" stroke-width="1.4"/>
<line x1="367.80" y1="450.30" x2="370.20" y2="450.30" stroke="#55b5ac" stroke-width="1.6"/>
<line x1="367.80" y1="479.10" x2="370.20" y2="479.10" stroke="#55b5ac" stroke-width="1.6"/>
<path d="M366.50,456.00L371.50,461.00M366.50,461.00L371.50,456.00" stroke="#55b5ac" stroke-width="1.15" fill="none"/>
<circle cx="369.00" cy="469.20" r="2.9" fill="#029386"/>
<path d="M369.00,458.20L371.60,462.10L369.00,466.00L366.40,462.10Z" fill="#029386"/>
<line x1="326.90" y1="447.60" x2="326.90" y2="452.60" stroke="#111" stroke-width="1.1"/>
<line x1="325.50" y1="447.60" x2="328.30" y2="447.60" stroke="#111" stroke-width="1.2"/>
<line x1="325.50" y1="452.60" x2="328.30" y2="452.60" stroke="#111" stroke-width="1.2"/>
<path d="M324.50,447.70L329.30,452.50M324.50,452.50L329.30,447.70" stroke="#000" stroke-width="1.05" fill="none"/>
<line x1="330.70" y1="447.30" x2="330.70" y2="452.30" stroke="#111" stroke-width="1.1"/>
<line x1="329.30" y1="447.30" x2="332.10" y2="447.30" stroke="#111" stroke-width="1.2"/>
<line x1="329.30" y1="452.30" x2="332.10" y2="452.30" stroke="#111" stroke-width="1.2"/>
<path d="M328.30,447.40L333.10,452.20M328.30,452.20L333.10,447.40" stroke="#000" stroke-width="1.05" fill="none"/>
<line x1="333.80" y1="447.60" x2="333.80" y2="458.60" stroke="#111" stroke-width="1.1"/>
<line x1="332.40" y1="447.60" x2="335.20" y2="447.60" stroke="#111" stroke-width="1.2"/>
<line x1="332.40" y1="458.60" x2="335.20" y2="458.60" stroke="#111" stroke-width="1.2"/>
<path d="M331.40,451.80L336.20,456.60M331.40,456.60L336.20,451.80" stroke="#000" stroke-width="1.05" fill="none"/>
<line x1="353.00" y1="455.20" x2="353.00" y2="462.50" stroke="#111" stroke-width="1.1"/>
<line x1="351.60" y1="455.20" x2="354.40" y2="455.20" stroke="#111" stroke-width="1.2"/>
<line x1="351.60" y1="462.50" x2="354.40" y2="462.50" stroke="#111" stroke-width="1.2"/>
<path d="M350.60,456.60L355.40,461.40M350.60,461.40L355.40,456.60" stroke="#000" stroke-width="1.05" fill="none"/>
<line x1="375.20" y1="455.00" x2="375.20" y2="463.20" stroke="#111" stroke-width="1.1"/>
<line x1="373.80" y1="455.00" x2="376.60" y2="455.00" stroke="#111" stroke-width="1.2"/>
<line x1="373.80" y1="463.20" x2="376.60" y2="463.20" stroke="#111" stroke-width="1.2"/>
<path d="M372.80,456.20L377.60,461.00M372.80,461.00L377.60,456.20" stroke="#000" stroke-width="1.05" fill="none"/>
<line x1="375.70" y1="450.00" x2="375.70" y2="456.00" stroke="#111" stroke-width="1.1"/>
<line x1="374.30" y1="450.00" x2="377.10" y2="450.00" stroke="#111" stroke-width="1.2"/>
<line x1="374.30" y1="456.00" x2="377.10" y2="456.00" stroke="#111" stroke-width="1.2"/>
<path d="M373.30,450.80L378.10,455.60M373.30,455.60L378.10,450.80" stroke="#000" stroke-width="1.05" fill="none"/>
<line x1="396.70" y1="457.10" x2="396.70" y2="475.40" stroke="#111" stroke-width="1.1"/>
<line x1="395.30" y1="457.10" x2="398.10" y2="457.10" stroke="#111" stroke-width="1.2"/>
<line x1="395.30" y1="475.40" x2="398.10" y2="475.40" stroke="#111" stroke-width="1.2"/>
<path d="M394.30,464.20L399.10,469.00M394.30,469.00L399.10,464.20" stroke="#000" stroke-width="1.05" fill="none"/>
<line x1="432.50" y1="433.10" x2="432.50" y2="488.00" stroke="#111" stroke-width="1.1"/>
<line x1="431.10" y1="433.10" x2="433.90" y2="433.10" stroke="#111" stroke-width="1.2"/>
<line x1="431.10" y1="488.00" x2="433.90" y2="488.00" stroke="#111" stroke-width="1.2"/>
<path d="M430.10,462.40L434.90,467.20M430.10,467.20L434.90,462.40" stroke="#000" stroke-width="1.05" fill="none"/>
<line x1="470.00" y1="445.20" x2="470.00" y2="454.80" stroke="#111" stroke-width="1.1"/>
<line x1="468.60" y1="445.20" x2="471.40" y2="445.20" stroke="#111" stroke-width="1.2"/>
<line x1="468.60" y1="454.80" x2="471.40" y2="454.80" stroke="#111" stroke-width="1.2"/>
<path d="M467.60,447.80L472.40,452.60M467.60,452.60L472.40,447.80" stroke="#000" stroke-width="1.05" fill="none"/>
<line x1="502.00" y1="446.40" x2="502.00" y2="452.50" stroke="#111" stroke-width="1.1"/>
<line x1="500.60" y1="446.40" x2="503.40" y2="446.40" stroke="#111" stroke-width="1.2"/>
<line x1="500.60" y1="452.50" x2="503.40" y2="452.50" stroke="#111" stroke-width="1.2"/>
<path d="M499.60,446.20L504.40,451.00M499.60,451.00L504.40,446.20" stroke="#000" stroke-width="1.05" fill="none"/>
<line x1="505.60" y1="452.10" x2="505.60" y2="457.10" stroke="#111" stroke-width="1.1"/>
<line x1="504.20" y1="452.10" x2="507.00" y2="452.10" stroke="#111" stroke-width="1.2"/>
<line x1="504.20" y1="457.10" x2="507.00" y2="457.10" stroke="#111" stroke-width="1.2"/>
<path d="M503.20,453.30L508.00,458.10M503.20,458.10L508.00,453.30" stroke="#000" stroke-width="1.05" fill="none"/>
<line x1="509.00" y1="444.60" x2="509.00" y2="450.00" stroke="#111" stroke-width="1.1"/>
<line x1="507.60" y1="444.60" x2="510.40" y2="444.60" stroke="#111" stroke-width="1.2"/>
<line x1="507.60" y1="450.00" x2="510.40" y2="450.00" stroke="#111" stroke-width="1.2"/>
<path d="M506.60,444.70L511.40,449.50M506.60,449.50L511.40,444.70" stroke="#000" stroke-width="1.05" fill="none"/>
<line x1="524.00" y1="449.30" x2="524.00" y2="453.90" stroke="#111" stroke-width="1.1"/>
<line x1="522.60" y1="449.30" x2="525.40" y2="449.30" stroke="#111" stroke-width="1.2"/>
<line x1="522.60" y1="453.90" x2="525.40" y2="453.90" stroke="#111" stroke-width="1.2"/>
<path d="M521.60,449.40L526.40,454.20M521.60,454.20L526.40,449.40" stroke="#000" stroke-width="1.05" fill="none"/>
<line x1="527.00" y1="452.50" x2="527.00" y2="457.50" stroke="#111" stroke-width="1.1"/>
<line x1="525.60" y1="452.50" x2="528.40" y2="452.50" stroke="#111" stroke-width="1.2"/>
<line x1="525.60" y1="457.50" x2="528.40" y2="457.50" stroke="#111" stroke-width="1.2"/>
<path d="M524.60,452.60L529.40,457.40M524.60,457.40L529.40,452.60" stroke="#000" stroke-width="1.05" fill="none"/>
<line x1="528.90" y1="446.40" x2="528.90" y2="453.60" stroke="#111" stroke-width="1.1"/>
<line x1="527.50" y1="446.40" x2="530.30" y2="446.40" stroke="#111" stroke-width="1.2"/>
<line x1="527.50" y1="453.60" x2="530.30" y2="453.60" stroke="#111" stroke-width="1.2"/>
<path d="M526.50,448.70L531.30,453.50M526.50,453.50L531.30,448.70" stroke="#000" stroke-width="1.05" fill="none"/>
<path d="M117.50,567.00L122.50,572.00M117.50,572.00L122.50,567.00" stroke="#15998c" stroke-width="1.15" fill="none"/>
<circle cx="120.00" cy="578.70" r="2.9" fill="#029386"/>
<path d="M120.00,543.90L122.60,547.80L120.00,551.70L117.40,547.80Z" fill="#029386"/>
<line x1="77.90" y1="594.30" x2="77.90" y2="595.90" stroke="#111" stroke-width="1.1"/>
<line x1="76.50" y1="594.30" x2="79.30" y2="594.30" stroke="#111" stroke-width="1.2"/>
<line x1="76.50" y1="595.90" x2="79.30" y2="595.90" stroke="#111" stroke-width="1.2"/>
<path d="M75.50,592.70L80.30,597.50M75.50,597.50L80.30,592.70" stroke="#000" stroke-width="1.05" fill="none"/>
<line x1="81.70" y1="592.00" x2="81.70" y2="596.00" stroke="#111" stroke-width="1.1"/>
<line x1="80.30" y1="592.00" x2="83.10" y2="592.00" stroke="#111" stroke-width="1.2"/>
<line x1="80.30" y1="596.00" x2="83.10" y2="596.00" stroke="#111" stroke-width="1.2"/>
<path d="M79.30,591.60L84.10,596.40M79.30,596.40L84.10,591.60" stroke="#000" stroke-width="1.05" fill="none"/>
<line x1="84.80" y1="582.40" x2="84.80" y2="589.50" stroke="#111" stroke-width="1.1"/>
<line x1="83.40" y1="582.40" x2="86.20" y2="582.40" stroke="#111" stroke-width="1.2"/>
<line x1="83.40" y1="589.50" x2="86.20" y2="589.50" stroke="#111" stroke-width="1.2"/>
<path d="M82.40,583.50L87.20,588.30M82.40,588.30L87.20,583.50" stroke="#000" stroke-width="1.05" fill="none"/>
<line x1="104.00" y1="610.20" x2="104.00" y2="611.80" stroke="#111" stroke-width="1.1"/>
<line x1="102.60" y1="610.20" x2="105.40" y2="610.20" stroke="#111" stroke-width="1.2"/>
<line x1="102.60" y1="611.80" x2="105.40" y2="611.80" stroke="#111" stroke-width="1.2"/>
<path d="M101.60,608.60L106.40,613.40M101.60,613.40L106.40,608.60" stroke="#000" stroke-width="1.05" fill="none"/>
<line x1="126.20" y1="608.00" x2="126.20" y2="609.60" stroke="#111" stroke-width="1.1"/>
<line x1="124.80" y1="608.00" x2="127.60" y2="608.00" stroke="#111" stroke-width="1.2"/>
<line x1="124.80" y1="609.60" x2="127.60" y2="609.60" stroke="#111" stroke-width="1.2"/>
<path d="M123.80,606.40L128.60,611.20M123.80,611.20L128.60,606.40" stroke="#000" stroke-width="1.05" fill="none"/>
<line x1="126.70" y1="614.70" x2="126.70" y2="616.30" stroke="#111" stroke-width="1.1"/>
<line x1="125.30" y1="614.70" x2="128.10" y2="614.70" stroke="#111" stroke-width="1.2"/>
<line x1="125.30" y1="616.30" x2="128.10" y2="616.30" stroke="#111" stroke-width="1.2"/>
<path d="M124.30,613.10L129.10,617.90M124.30,617.90L129.10,613.10" stroke="#000" stroke-width="1.05" fill="none"/>
<line x1="147.70" y1="611.50" x2="147.70" y2="613.10" stroke="#111" stroke-width="1.1"/>
<line x1="146.30" y1="611.50" x2="149.10" y2="611.50" stroke="#111" stroke-width="1.2"/>
<line x1="146.30" y1="613.10" x2="149.10" y2="613.10" stroke="#111" stroke-width="1.2"/>
<path d="M145.30,609.90L150.10,614.70M145.30,614.70L150.10,609.90" stroke="#000" stroke-width="1.05" fill="none"/>
<path d="M181.10,620.00L185.90,624.80M181.10,624.80L185.90,620.00" stroke="#000" stroke-width="1.05" fill="none"/>
<line x1="221.00" y1="591.50" x2="221.00" y2="595.50" stroke="#111" stroke-width="1.1"/>
<line x1="219.60" y1="591.50" x2="222.40" y2="591.50" stroke="#111" stroke-width="1.2"/>
<line x1="219.60" y1="595.50" x2="222.40" y2="595.50" stroke="#111" stroke-width="1.2"/>
<path d="M218.60,591.20L223.40,596.00M218.60,596.00L223.40,591.20" stroke="#000" stroke-width="1.05" fill="none"/>
<line x1="253.00" y1="593.30" x2="253.00" y2="596.20" stroke="#111" stroke-width="1.1"/>
<line x1="251.60" y1="593.30" x2="254.40" y2="593.30" stroke="#111" stroke-width="1.2"/>
<line x1="251.60" y1="596.20" x2="254.40" y2="596.20" stroke="#111" stroke-width="1.2"/>
<path d="M250.60,591.70L255.40,596.50M250.60,596.50L255.40,591.70" stroke="#000" stroke-width="1.05" fill="none"/>
<line x1="256.60" y1="584.30" x2="256.60" y2="587.50" stroke="#111" stroke-width="1.1"/>
<line x1="255.20" y1="584.30" x2="258.00" y2="584.30" stroke="#111" stroke-width="1.2"/>
<line x1="255.20" y1="587.50" x2="258.00" y2="587.50" stroke="#111" stroke-width="1.2"/>
<path d="M254.20,583.50L259.00,588.30M254.20,588.30L259.00,583.50" stroke="#000" stroke-width="1.05" fill="none"/>
<path d="M257.60,610.10L262.40,614.90M257.60,614.90L262.40,610.10" stroke="#000" stroke-width="1.05" fill="none"/>
<line x1="275.00" y1="588.40" x2="275.00" y2="591.40" stroke="#111" stroke-width="1.1"/>
<line x1="273.60" y1="588.40" x2="276.40" y2="588.40" stroke="#111" stroke-width="1.2"/>
<line x1="273.60" y1="591.40" x2="276.40" y2="591.40" stroke="#111" stroke-width="1.2"/>
<path d="M272.60,587.50L277.40,592.30M272.60,592.30L277.40,587.50" stroke="#000" stroke-width="1.05" fill="none"/>
<line x1="278.00" y1="587.50" x2="278.00" y2="591.00" stroke="#111" stroke-width="1.1"/>
<line x1="276.60" y1="587.50" x2="279.40" y2="587.50" stroke="#111" stroke-width="1.2"/>
<line x1="276.60" y1="591.00" x2="279.40" y2="591.00" stroke="#111" stroke-width="1.2"/>
<path d="M275.60,586.90L280.40,591.70M275.60,591.70L280.40,586.90" stroke="#000" stroke-width="1.05" fill="none"/>
<line x1="279.90" y1="596.90" x2="279.90" y2="598.50" stroke="#111" stroke-width="1.1"/>
<line x1="278.50" y1="596.90" x2="281.30" y2="596.90" stroke="#111" stroke-width="1.2"/>
<line x1="278.50" y1="598.50" x2="281.30" y2="598.50" stroke="#111" stroke-width="1.2"/>
<path d="M277.50,595.30L282.30,600.10M277.50,600.10L282.30,595.30" stroke="#000" stroke-width="1.05" fill="none"/>
<path d="M366.50,567.00L371.50,572.00M366.50,572.00L371.50,567.00" stroke="#15998c" stroke-width="1.15" fill="none"/>
<circle cx="369.00" cy="578.70" r="2.9" fill="#029386"/>
<path d="M369.00,543.90L371.60,547.80L369.00,551.70L366.40,547.80Z" fill="#029386"/>
<line x1="326.90" y1="542.10" x2="326.90" y2="560.40" stroke="#111" stroke-width="1.1"/>
<line x1="325.50" y1="542.10" x2="328.30" y2="542.10" stroke="#111" stroke-width="1.2"/>
<line x1="325.50" y1="560.40" x2="328.30" y2="560.40" stroke="#111" stroke-width="1.2"/>
<path d="M324.50,551.50L329.30,556.30M324.50,556.30L329.30,551.50" stroke="#000" stroke-width="1.05" fill="none"/>
<line x1="330.70" y1="543.50" x2="330.70" y2="558.90" stroke="#111" stroke-width="1.1"/>
<line x1="329.30" y1="543.50" x2="332.10" y2="543.50" stroke="#111" stroke-width="1.2"/>
<line x1="329.30" y1="558.90" x2="332.10" y2="558.90" stroke="#111" stroke-width="1.2"/>
<path d="M328.30,551.00L333.10,555.80M328.30,555.80L333.10,551.00" stroke="#000" stroke-width="1.05" fill="none"/>
<line x1="333.80" y1="498.50" x2="333.80" y2="556.40" stroke="#111" stroke-width="1.1"/>
<line x1="332.40" y1="498.50" x2="335.20" y2="498.50" stroke="#111" stroke-width="1.2"/>
<line x1="332.40" y1="556.40" x2="335.20" y2="556.40" stroke="#111" stroke-width="1.2"/>
<path d="M331.40,544.40L336.20,549.20M331.40,549.20L336.20,544.40" stroke="#000" stroke-width="1.05" fill="none"/>
<line x1="353.00" y1="508.20" x2="353.00" y2="550.60" stroke="#111" stroke-width="1.1"/>
<line x1="351.60" y1="508.20" x2="354.40" y2="508.20" stroke="#111" stroke-width="1.2"/>
<line x1="351.60" y1="550.60" x2="354.40" y2="550.60" stroke="#111" stroke-width="1.2"/>
<path d="M350.60,537.20L355.40,542.00M350.60,542.00L355.40,537.20" stroke="#000" stroke-width="1.05" fill="none"/>
<line x1="375.20" y1="567.60" x2="375.20" y2="573.10" stroke="#111" stroke-width="1.1"/>
<line x1="373.80" y1="567.60" x2="376.60" y2="567.60" stroke="#111" stroke-width="1.2"/>
<line x1="373.80" y1="573.10" x2="376.60" y2="573.10" stroke="#111" stroke-width="1.2"/>
<path d="M372.80,568.10L377.60,572.90M372.80,572.90L377.60,568.10" stroke="#000" stroke-width="1.05" fill="none"/>
<line x1="375.70" y1="497.70" x2="375.70" y2="559.30" stroke="#111" stroke-width="1.1"/>
<line x1="374.30" y1="497.70" x2="377.10" y2="497.70" stroke="#111" stroke-width="1.2"/>
<line x1="374.30" y1="559.30" x2="377.10" y2="559.30" stroke="#111" stroke-width="1.2"/>
<path d="M373.30,548.20L378.10,553.00M373.30,553.00L378.10,548.20" stroke="#000" stroke-width="1.05" fill="none"/>
<line x1="396.70" y1="555.10" x2="396.70" y2="565.60" stroke="#111" stroke-width="1.1"/>
<line x1="395.30" y1="555.10" x2="398.10" y2="555.10" stroke="#111" stroke-width="1.2"/>
<line x1="395.30" y1="565.60" x2="398.10" y2="565.60" stroke="#111" stroke-width="1.2"/>
<path d="M394.30,558.50L399.10,563.30M394.30,563.30L399.10,558.50" stroke="#000" stroke-width="1.05" fill="none"/>
<line x1="432.50" y1="548.30" x2="432.50" y2="571.70" stroke="#111" stroke-width="1.1"/>
<line x1="431.10" y1="548.30" x2="433.90" y2="548.30" stroke="#111" stroke-width="1.2"/>
<line x1="431.10" y1="571.70" x2="433.90" y2="571.70" stroke="#111" stroke-width="1.2"/>
<path d="M430.10,560.00L434.90,564.80M430.10,564.80L434.90,560.00" stroke="#000" stroke-width="1.05" fill="none"/>
<line x1="470.00" y1="509.50" x2="470.00" y2="557.00" stroke="#111" stroke-width="1.1"/>
<line x1="468.60" y1="509.50" x2="471.40" y2="509.50" stroke="#111" stroke-width="1.2"/>
<line x1="468.60" y1="557.00" x2="471.40" y2="557.00" stroke="#111" stroke-width="1.2"/>
<path d="M467.60,516.00L472.40,520.80M467.60,520.80L472.40,516.00" stroke="#000" stroke-width="1.05" fill="none"/>
<line x1="502.00" y1="511.00" x2="502.00" y2="560.30" stroke="#111" stroke-width="1.1"/>
<line x1="500.60" y1="511.00" x2="503.40" y2="511.00" stroke="#111" stroke-width="1.2"/>
<line x1="500.60" y1="560.30" x2="503.40" y2="560.30" stroke="#111" stroke-width="1.2"/>
<path d="M499.60,513.60L504.40,518.40M499.60,518.40L504.40,513.60" stroke="#000" stroke-width="1.05" fill="none"/>
<line x1="505.60" y1="516.00" x2="505.60" y2="553.80" stroke="#111" stroke-width="1.1"/>
<line x1="504.20" y1="516.00" x2="507.00" y2="516.00" stroke="#111" stroke-width="1.2"/>
<line x1="504.20" y1="553.80" x2="507.00" y2="553.80" stroke="#111" stroke-width="1.2"/>
<path d="M503.20,515.50L508.00,520.30M503.20,520.30L508.00,515.50" stroke="#000" stroke-width="1.05" fill="none"/>
<line x1="509.00" y1="516.40" x2="509.00" y2="563.50" stroke="#111" stroke-width="1.1"/>
<line x1="507.60" y1="516.40" x2="510.40" y2="516.40" stroke="#111" stroke-width="1.2"/>
<line x1="507.60" y1="563.50" x2="510.40" y2="563.50" stroke="#111" stroke-width="1.2"/>
<path d="M506.60,545.50L511.40,550.30M506.60,550.30L511.40,545.50" stroke="#000" stroke-width="1.05" fill="none"/>
<line x1="524.00" y1="516.00" x2="524.00" y2="558.40" stroke="#111" stroke-width="1.1"/>
<line x1="522.60" y1="516.00" x2="525.40" y2="516.00" stroke="#111" stroke-width="1.2"/>
<line x1="522.60" y1="558.40" x2="525.40" y2="558.40" stroke="#111" stroke-width="1.2"/>
<path d="M521.60,514.00L526.40,518.80M521.60,518.80L526.40,514.00" stroke="#000" stroke-width="1.05" fill="none"/>
<line x1="527.00" y1="499.10" x2="527.00" y2="562.10" stroke="#111" stroke-width="1.1"/>
<line x1="525.60" y1="499.10" x2="528.40" y2="499.10" stroke="#111" stroke-width="1.2"/>
<line x1="525.60" y1="562.10" x2="528.40" y2="562.10" stroke="#111" stroke-width="1.2"/>
<path d="M524.60,542.20L529.40,547.00M524.60,547.00L529.40,542.20" stroke="#000" stroke-width="1.05" fill="none"/>
<line x1="528.90" y1="532.20" x2="528.90" y2="562.70" stroke="#111" stroke-width="1.1"/>
<line x1="527.50" y1="532.20" x2="530.30" y2="532.20" stroke="#111" stroke-width="1.2"/>
<line x1="527.50" y1="562.70" x2="530.30" y2="562.70" stroke="#111" stroke-width="1.2"/>
<path d="M526.50,551.40L531.30,556.20M526.50,556.20L531.30,551.40" stroke="#000" stroke-width="1.05" fill="none"/>
<rect x="149.0" y="335.0" width="57.4" height="42.2" rx="2.2" ry="2.2" fill="#fff" stroke="#dcdcdc" stroke-width="1"/>
<line x1="151.10" y1="342.30" x2="171.90" y2="342.30" stroke="#e50000" stroke-width="3.0"/>
<line x1="151.10" y1="355.50" x2="171.90" y2="355.50" stroke="#0343df" stroke-width="3.0"/>
<line x1="161.30" y1="364.30" x2="161.30" y2="373.60" stroke="#111" stroke-width="1.1"/>
<line x1="159.90" y1="364.30" x2="162.70" y2="364.30" stroke="#111" stroke-width="1.2"/>
<line x1="159.90" y1="373.60" x2="162.70" y2="373.60" stroke="#111" stroke-width="1.2"/>
<path d="M158.90,366.80L163.70,371.60M158.90,371.60L163.70,366.80" stroke="#000" stroke-width="1.05" fill="none"/>
<text x="176.80" y="344.80" font-size="9.5" text-anchor="start" font-style="italic">R</text>
<text x="183.20" y="346.80" font-size="6.8" text-anchor="start" font-style="italic">C</text>
<text x="176.80" y="358.60" font-size="9.5" text-anchor="start" textLength="13.50" lengthAdjust="spacingAndGlyphs">0.1</text>
<text x="190.80" y="358.60" font-size="9.5" text-anchor="start" font-style="italic">R</text>
<text x="197.30" y="360.60" font-size="6.8" text-anchor="start" font-style="italic">C</text>
<text x="177.00" y="371.50" font-size="9.5" text-anchor="start" font-style="italic">r</text>
<text x="180.80" y="372.80" font-size="6.8" text-anchor="start" textLength="20.50" lengthAdjust="spacingAndGlyphs" class="thin">launch</text>
<rect x="140.6" y="565.3" width="8" height="8" rx="1.6" ry="1.6" fill="#fff" stroke="#d8d8d8" stroke-width="0.9"/>
<rect x="52" y="0" width="2" height="661" fill="#b4b4b4"/>
<rect x="301" y="0" width="2" height="661" fill="#b4b4b4"/>
<rect x="550" y="0" width="2" height="661" fill="#b4b4b4"/>
<rect x="53" y="0" width="498" height="1" fill="#707070"/>
<rect x="53" y="165" width="498" height="1" fill="#707070"/>
<rect x="53" y="330" width="498" height="1" fill="#707070"/>
<rect x="53" y="495" width="498" height="1" fill="#707070"/>
<rect x="53" y="660" width="498" height="1" fill="#707070"/>
<line x1="48.90" y1="162.60" x2="52.00" y2="162.60" stroke="#555" stroke-width="1.25"/>
<line x1="297.90" y1="162.60" x2="301.00" y2="162.60" stroke="#555" stroke-width="1.25"/>
<text x="47.30" y="167.60" font-size="10" text-anchor="end" textLength="6.56" lengthAdjust="spacingAndGlyphs">0</text>
<line x1="48.90" y1="136.80" x2="52.00" y2="136.80" stroke="#555" stroke-width="1.25"/>
<line x1="297.90" y1="136.80" x2="301.00" y2="136.80" stroke="#555" stroke-width="1.25"/>
<text x="47.30" y="141.80" font-size="10" text-anchor="end" textLength="6.56" lengthAdjust="spacingAndGlyphs">1</text>
<line x1="48.90" y1="111.00" x2="52.00" y2="111.00" stroke="#555" stroke-width="1.25"/>
<line x1="297.90" y1="111.00" x2="301.00" y2="111.00" stroke="#555" stroke-width="1.25"/>
<text x="47.30" y="116.00" font-size="10" text-anchor="end" textLength="6.56" lengthAdjust="spacingAndGlyphs">2</text>
<line x1="48.90" y1="85.20" x2="52.00" y2="85.20" stroke="#555" stroke-width="1.25"/>
<line x1="297.90" y1="85.20" x2="301.00" y2="85.20" stroke="#555" stroke-width="1.25"/>
<text x="47.30" y="90.20" font-size="10" text-anchor="end" textLength="6.56" lengthAdjust="spacingAndGlyphs">3</text>
<line x1="48.90" y1="59.40" x2="52.00" y2="59.40" stroke="#555" stroke-width="1.25"/>
<line x1="297.90" y1="59.40" x2="301.00" y2="59.40" stroke="#555" stroke-width="1.25"/>
<text x="47.30" y="64.40" font-size="10" text-anchor="end" textLength="6.56" lengthAdjust="spacingAndGlyphs">4</text>
<line x1="48.90" y1="33.60" x2="52.00" y2="33.60" stroke="#555" stroke-width="1.25"/>
<line x1="297.90" y1="33.60" x2="301.00" y2="33.60" stroke="#555" stroke-width="1.25"/>
<text x="47.30" y="38.60" font-size="10" text-anchor="end" textLength="6.56" lengthAdjust="spacingAndGlyphs">5</text>
<line x1="48.90" y1="7.80" x2="52.00" y2="7.80" stroke="#555" stroke-width="1.25"/>
<line x1="297.90" y1="7.80" x2="301.00" y2="7.80" stroke="#555" stroke-width="1.25"/>
<text x="47.30" y="12.80" font-size="10" text-anchor="end" textLength="6.56" lengthAdjust="spacingAndGlyphs">6</text>
<line x1="48.90" y1="320.60" x2="52.00" y2="320.60" stroke="#555" stroke-width="1.25"/>
<line x1="297.90" y1="320.60" x2="301.00" y2="320.60" stroke="#555" stroke-width="1.25"/>
<text x="47.30" y="325.60" font-size="10" text-anchor="end" textLength="16.10" lengthAdjust="spacingAndGlyphs">3.5</text>
<line x1="48.90" y1="286.10" x2="52.00" y2="286.10" stroke="#555" stroke-width="1.25"/>
<line x1="297.90" y1="286.10" x2="301.00" y2="286.10" stroke="#555" stroke-width="1.25"/>
<text x="47.30" y="291.10" font-size="10" text-anchor="end" textLength="16.10" lengthAdjust="spacingAndGlyphs">4.0</text>
<line x1="48.90" y1="251.60" x2="52.00" y2="251.60" stroke="#555" stroke-width="1.25"/>
<line x1="297.90" y1="251.60" x2="301.00" y2="251.60" stroke="#555" stroke-width="1.25"/>
<text x="47.30" y="256.60" font-size="10" text-anchor="end" textLength="16.10" lengthAdjust="spacingAndGlyphs">4.5</text>
<line x1="48.90" y1="217.10" x2="52.00" y2="217.10" stroke="#555" stroke-width="1.25"/>
<line x1="297.90" y1="217.10" x2="301.00" y2="217.10" stroke="#555" stroke-width="1.25"/>
<text x="47.30" y="222.10" font-size="10" text-anchor="end" textLength="16.10" lengthAdjust="spacingAndGlyphs">5.0</text>
<line x1="48.90" y1="182.60" x2="52.00" y2="182.60" stroke="#555" stroke-width="1.25"/>
<line x1="297.90" y1="182.60" x2="301.00" y2="182.60" stroke="#555" stroke-width="1.25"/>
<text x="47.30" y="187.60" font-size="10" text-anchor="end" textLength="16.10" lengthAdjust="spacingAndGlyphs">5.5</text>
<line x1="48.90" y1="490.50" x2="52.00" y2="490.50" stroke="#555" stroke-width="1.25"/>
<line x1="297.90" y1="490.50" x2="301.00" y2="490.50" stroke="#555" stroke-width="1.25"/>
<text x="47.30" y="495.50" font-size="10" text-anchor="end" textLength="16.10" lengthAdjust="spacingAndGlyphs">9.0</text>
<line x1="48.90" y1="462.20" x2="52.00" y2="462.20" stroke="#555" stroke-width="1.25"/>
<line x1="297.90" y1="462.20" x2="301.00" y2="462.20" stroke="#555" stroke-width="1.25"/>
<text x="47.30" y="467.20" font-size="10" text-anchor="end" textLength="16.10" lengthAdjust="spacingAndGlyphs">9.5</text>
<line x1="48.90" y1="433.90" x2="52.00" y2="433.90" stroke="#555" stroke-width="1.25"/>
<line x1="297.90" y1="433.90" x2="301.00" y2="433.90" stroke="#555" stroke-width="1.25"/>
<text x="47.30" y="438.90" font-size="10" text-anchor="end" textLength="22.46" lengthAdjust="spacingAndGlyphs">10.0</text>
<line x1="48.90" y1="405.60" x2="52.00" y2="405.60" stroke="#555" stroke-width="1.25"/>
<line x1="297.90" y1="405.60" x2="301.00" y2="405.60" stroke="#555" stroke-width="1.25"/>
<text x="47.30" y="410.60" font-size="10" text-anchor="end" textLength="22.46" lengthAdjust="spacingAndGlyphs">10.5</text>
<line x1="48.90" y1="377.30" x2="52.00" y2="377.30" stroke="#555" stroke-width="1.25"/>
<line x1="297.90" y1="377.30" x2="301.00" y2="377.30" stroke="#555" stroke-width="1.25"/>
<text x="47.30" y="382.30" font-size="10" text-anchor="end" textLength="22.46" lengthAdjust="spacingAndGlyphs">11.0</text>
<line x1="48.90" y1="349.00" x2="52.00" y2="349.00" stroke="#555" stroke-width="1.25"/>
<line x1="297.90" y1="349.00" x2="301.00" y2="349.00" stroke="#555" stroke-width="1.25"/>
<text x="47.30" y="354.00" font-size="10" text-anchor="end" textLength="22.46" lengthAdjust="spacingAndGlyphs">11.5</text>
<line x1="48.90" y1="517.00" x2="52.00" y2="517.00" stroke="#555" stroke-width="1.25"/>
<line x1="297.90" y1="517.00" x2="301.00" y2="517.00" stroke="#555" stroke-width="1.25"/>
<rect x="21.0" y="516.90" width="7.0" height="1.15" fill="#000"/>
<text x="29.50" y="520.90" font-size="10" text-anchor="start" textLength="11.70" lengthAdjust="spacingAndGlyphs">10</text>
<text x="42.60" y="516.60" font-size="7.4" text-anchor="start" textLength="4.20" lengthAdjust="spacingAndGlyphs">2</text>
<line x1="48.90" y1="556.73" x2="52.00" y2="556.73" stroke="#555" stroke-width="1.25"/>
<line x1="297.90" y1="556.73" x2="301.00" y2="556.73" stroke="#555" stroke-width="1.25"/>
<rect x="21.0" y="556.63" width="7.0" height="1.15" fill="#000"/>
<text x="29.50" y="560.63" font-size="10" text-anchor="start" textLength="11.70" lengthAdjust="spacingAndGlyphs">10</text>
<text x="42.60" y="556.33" font-size="7.4" text-anchor="start" textLength="4.20" lengthAdjust="spacingAndGlyphs">3</text>
<line x1="48.90" y1="596.46" x2="52.00" y2="596.46" stroke="#555" stroke-width="1.25"/>
<line x1="297.90" y1="596.46" x2="301.00" y2="596.46" stroke="#555" stroke-width="1.25"/>
<rect x="21.0" y="596.36" width="7.0" height="1.15" fill="#000"/>
<text x="29.50" y="600.36" font-size="10" text-anchor="start" textLength="11.70" lengthAdjust="spacingAndGlyphs">10</text>
<text x="42.60" y="596.06" font-size="7.4" text-anchor="start" textLength="4.20" lengthAdjust="spacingAndGlyphs">4</text>
<line x1="48.90" y1="636.19" x2="52.00" y2="636.19" stroke="#555" stroke-width="1.25"/>
<line x1="297.90" y1="636.19" x2="301.00" y2="636.19" stroke="#555" stroke-width="1.25"/>
<rect x="21.0" y="636.09" width="7.0" height="1.15" fill="#000"/>
<text x="29.50" y="640.09" font-size="10" text-anchor="start" textLength="11.70" lengthAdjust="spacingAndGlyphs">10</text>
<text x="42.60" y="635.79" font-size="7.4" text-anchor="start" textLength="4.20" lengthAdjust="spacingAndGlyphs">5</text>
<line x1="53.00" y1="661.00" x2="53.00" y2="664.50" stroke="#555" stroke-width="1.2"/>
<text x="53.00" y="674.00" font-size="10" text-anchor="middle" textLength="18.60" lengthAdjust="spacingAndGlyphs">440</text>
<line x1="59.23" y1="661.00" x2="59.23" y2="664.50" stroke="#555" stroke-width="1.2"/>
<line x1="65.45" y1="661.00" x2="65.45" y2="664.50" stroke="#555" stroke-width="1.2"/>
<line x1="71.67" y1="661.00" x2="71.67" y2="664.50" stroke="#555" stroke-width="1.2"/>
<line x1="77.90" y1="661.00" x2="77.90" y2="664.50" stroke="#555" stroke-width="1.2"/>
<line x1="84.12" y1="661.00" x2="84.12" y2="664.50" stroke="#555" stroke-width="1.2"/>
<text x="84.12" y="674.00" font-size="10" text-anchor="middle" textLength="18.60" lengthAdjust="spacingAndGlyphs">450</text>
<line x1="90.35" y1="661.00" x2="90.35" y2="664.50" stroke="#555" stroke-width="1.2"/>
<line x1="96.57" y1="661.00" x2="96.57" y2="664.50" stroke="#555" stroke-width="1.2"/>
<line x1="102.80" y1="661.00" x2="102.80" y2="664.50" stroke="#555" stroke-width="1.2"/>
<line x1="109.03" y1="661.00" x2="109.03" y2="664.50" stroke="#555" stroke-width="1.2"/>
<line x1="115.25" y1="661.00" x2="115.25" y2="664.50" stroke="#555" stroke-width="1.2"/>
<text x="115.25" y="674.00" font-size="10" text-anchor="middle" textLength="18.60" lengthAdjust="spacingAndGlyphs">460</text>
<line x1="121.47" y1="661.00" x2="121.47" y2="664.50" stroke="#555" stroke-width="1.2"/>
<line x1="127.70" y1="661.00" x2="127.70" y2="664.50" stroke="#555" stroke-width="1.2"/>
<line x1="133.93" y1="661.00" x2="133.93" y2="664.50" stroke="#555" stroke-width="1.2"/>
<line x1="140.15" y1="661.00" x2="140.15" y2="664.50" stroke="#555" stroke-width="1.2"/>
<line x1="146.38" y1="661.00" x2="146.38" y2="664.50" stroke="#555" stroke-width="1.2"/>
<text x="146.38" y="674.00" font-size="10" text-anchor="middle" textLength="18.60" lengthAdjust="spacingAndGlyphs">470</text>
<line x1="152.60" y1="661.00" x2="152.60" y2="664.50" stroke="#555" stroke-width="1.2"/>
<line x1="158.82" y1="661.00" x2="158.82" y2="664.50" stroke="#555" stroke-width="1.2"/>
<line x1="165.05" y1="661.00" x2="165.05" y2="664.50" stroke="#555" stroke-width="1.2"/>
<line x1="171.27" y1="661.00" x2="171.27" y2="664.50" stroke="#555" stroke-width="1.2"/>
<line x1="177.50" y1="661.00" x2="177.50" y2="664.50" stroke="#555" stroke-width="1.2"/>
<text x="177.50" y="674.00" font-size="10" text-anchor="middle" textLength="18.60" lengthAdjust="spacingAndGlyphs">480</text>
<line x1="183.72" y1="661.00" x2="183.72" y2="664.50" stroke="#555" stroke-width="1.2"/>
<line x1="189.95" y1="661.00" x2="189.95" y2="664.50" stroke="#555" stroke-width="1.2"/>
<line x1="196.17" y1="661.00" x2="196.17" y2="664.50" stroke="#555" stroke-width="1.2"/>
<line x1="202.40" y1="661.00" x2="202.40" y2="664.50" stroke="#555" stroke-width="1.2"/>
<line x1="208.62" y1="661.00" x2="208.62" y2="664.50" stroke="#555" stroke-width="1.2"/>
<text x="208.62" y="674.00" font-size="10" text-anchor="middle" textLength="18.60" lengthAdjust="spacingAndGlyphs">490</text>
<line x1="214.85" y1="661.00" x2="214.85" y2="664.50" stroke="#555" stroke-width="1.2"/>
<line x1="221.07" y1="661.00" x2="221.07" y2="664.50" stroke="#555" stroke-width="1.2"/>
<line x1="227.30" y1="661.00" x2="227.30" y2="664.50" stroke="#555" stroke-width="1.2"/>
<line x1="233.52" y1="661.00" x2="233.52" y2="664.50" stroke="#555" stroke-width="1.2"/>
<line x1="239.75" y1="661.00" x2="239.75" y2="664.50" stroke="#555" stroke-width="1.2"/>
<text x="239.75" y="674.00" font-size="10" text-anchor="middle" textLength="18.60" lengthAdjust="spacingAndGlyphs">500</text>
<line x1="245.97" y1="661.00" x2="245.97" y2="664.50" stroke="#555" stroke-width="1.2"/>
<line x1="252.20" y1="661.00" x2="252.20" y2="664.50" stroke="#555" stroke-width="1.2"/>
<line x1="258.42" y1="661.00" x2="258.42" y2="664.50" stroke="#555" stroke-width="1.2"/>
<line x1="264.65" y1="661.00" x2="264.65" y2="664.50" stroke="#555" stroke-width="1.2"/>
<line x1="270.88" y1="661.00" x2="270.88" y2="664.50" stroke="#555" stroke-width="1.2"/>
<text x="270.88" y="674.00" font-size="10" text-anchor="middle" textLength="18.60" lengthAdjust="spacingAndGlyphs">510</text>
<line x1="277.10" y1="661.00" x2="277.10" y2="664.50" stroke="#555" stroke-width="1.2"/>
<line x1="283.32" y1="661.00" x2="283.32" y2="664.50" stroke="#555" stroke-width="1.2"/>
<line x1="289.55" y1="661.00" x2="289.55" y2="664.50" stroke="#555" stroke-width="1.2"/>
<line x1="295.77" y1="661.00" x2="295.77" y2="664.50" stroke="#555" stroke-width="1.2"/>
<line x1="302.00" y1="661.00" x2="302.00" y2="664.50" stroke="#555" stroke-width="1.2"/>
<text x="177.50" y="694.00" font-size="12" text-anchor="middle" textLength="111.00" lengthAdjust="spacingAndGlyphs" class="big">Time (MJD - 53000)</text>
<line x1="302.00" y1="661.00" x2="302.00" y2="664.50" stroke="#555" stroke-width="1.2"/>
<text x="302.00" y="674.00" font-size="10" text-anchor="middle" textLength="18.60" lengthAdjust="spacingAndGlyphs">440</text>
<line x1="308.23" y1="661.00" x2="308.23" y2="664.50" stroke="#555" stroke-width="1.2"/>
<line x1="314.45" y1="661.00" x2="314.45" y2="664.50" stroke="#555" stroke-width="1.2"/>
<line x1="320.68" y1="661.00" x2="320.68" y2="664.50" stroke="#555" stroke-width="1.2"/>
<line x1="326.90" y1="661.00" x2="326.90" y2="664.50" stroke="#555" stroke-width="1.2"/>
<line x1="333.12" y1="661.00" x2="333.12" y2="664.50" stroke="#555" stroke-width="1.2"/>
<text x="333.12" y="674.00" font-size="10" text-anchor="middle" textLength="18.60" lengthAdjust="spacingAndGlyphs">450</text>
<line x1="339.35" y1="661.00" x2="339.35" y2="664.50" stroke="#555" stroke-width="1.2"/>
<line x1="345.57" y1="661.00" x2="345.57" y2="664.50" stroke="#555" stroke-width="1.2"/>
<line x1="351.80" y1="661.00" x2="351.80" y2="664.50" stroke="#555" stroke-width="1.2"/>
<line x1="358.02" y1="661.00" x2="358.02" y2="664.50" stroke="#555" stroke-width="1.2"/>
<line x1="364.25" y1="661.00" x2="364.25" y2="664.50" stroke="#555" stroke-width="1.2"/>
<text x="364.25" y="674.00" font-size="10" text-anchor="middle" textLength="18.60" lengthAdjust="spacingAndGlyphs">460</text>
<line x1="370.48" y1="661.00" x2="370.48" y2="664.50" stroke="#555" stroke-width="1.2"/>
<line x1="376.70" y1="661.00" x2="376.70" y2="664.50" stroke="#555" stroke-width="1.2"/>
<line x1="382.93" y1="661.00" x2="382.93" y2="664.50" stroke="#555" stroke-width="1.2"/>
<line x1="389.15" y1="661.00" x2="389.15" y2="664.50" stroke="#555" stroke-width="1.2"/>
<line x1="395.38" y1="661.00" x2="395.38" y2="664.50" stroke="#555" stroke-width="1.2"/>
<text x="395.38" y="674.00" font-size="10" text-anchor="middle" textLength="18.60" lengthAdjust="spacingAndGlyphs">470</text>
<line x1="401.60" y1="661.00" x2="401.60" y2="664.50" stroke="#555" stroke-width="1.2"/>
<line x1="407.82" y1="661.00" x2="407.82" y2="664.50" stroke="#555" stroke-width="1.2"/>
<line x1="414.05" y1="661.00" x2="414.05" y2="664.50" stroke="#555" stroke-width="1.2"/>
<line x1="420.27" y1="661.00" x2="420.27" y2="664.50" stroke="#555" stroke-width="1.2"/>
<line x1="426.50" y1="661.00" x2="426.50" y2="664.50" stroke="#555" stroke-width="1.2"/>
<text x="426.50" y="674.00" font-size="10" text-anchor="middle" textLength="18.60" lengthAdjust="spacingAndGlyphs">480</text>
<line x1="432.73" y1="661.00" x2="432.73" y2="664.50" stroke="#555" stroke-width="1.2"/>
<line x1="438.95" y1="661.00" x2="438.95" y2="664.50" stroke="#555" stroke-width="1.2"/>
<line x1="445.17" y1="661.00" x2="445.17" y2="664.50" stroke="#555" stroke-width="1.2"/>
<line x1="451.40" y1="661.00" x2="451.40" y2="664.50" stroke="#555" stroke-width="1.2"/>
<line x1="457.62" y1="661.00" x2="457.62" y2="664.50" stroke="#555" stroke-width="1.2"/>
<text x="457.62" y="674.00" font-size="10" text-anchor="middle" textLength="18.60" lengthAdjust="spacingAndGlyphs">490</text>
<line x1="463.85" y1="661.00" x2="463.85" y2="664.50" stroke="#555" stroke-width="1.2"/>
<line x1="470.07" y1="661.00" x2="470.07" y2="664.50" stroke="#555" stroke-width="1.2"/>
<line x1="476.30" y1="661.00" x2="476.30" y2="664.50" stroke="#555" stroke-width="1.2"/>
<line x1="482.52" y1="661.00" x2="482.52" y2="664.50" stroke="#555" stroke-width="1.2"/>
<line x1="488.75" y1="661.00" x2="488.75" y2="664.50" stroke="#555" stroke-width="1.2"/>
<text x="488.75" y="674.00" font-size="10" text-anchor="middle" textLength="18.60" lengthAdjust="spacingAndGlyphs">500</text>
<line x1="494.98" y1="661.00" x2="494.98" y2="664.50" stroke="#555" stroke-width="1.2"/>
<line x1="501.20" y1="661.00" x2="501.20" y2="664.50" stroke="#555" stroke-width="1.2"/>
<line x1="507.42" y1="661.00" x2="507.42" y2="664.50" stroke="#555" stroke-width="1.2"/>
<line x1="513.65" y1="661.00" x2="513.65" y2="664.50" stroke="#555" stroke-width="1.2"/>
<line x1="519.88" y1="661.00" x2="519.88" y2="664.50" stroke="#555" stroke-width="1.2"/>
<text x="519.88" y="674.00" font-size="10" text-anchor="middle" textLength="18.60" lengthAdjust="spacingAndGlyphs">510</text>
<line x1="526.10" y1="661.00" x2="526.10" y2="664.50" stroke="#555" stroke-width="1.2"/>
<line x1="532.33" y1="661.00" x2="532.33" y2="664.50" stroke="#555" stroke-width="1.2"/>
<line x1="538.55" y1="661.00" x2="538.55" y2="664.50" stroke="#555" stroke-width="1.2"/>
<line x1="544.77" y1="661.00" x2="544.77" y2="664.50" stroke="#555" stroke-width="1.2"/>
<line x1="551.00" y1="661.00" x2="551.00" y2="664.50" stroke="#555" stroke-width="1.2"/>
<text x="551.00" y="674.00" font-size="10" text-anchor="middle" textLength="18.60" lengthAdjust="spacingAndGlyphs">520</text>
<text x="426.50" y="694.00" font-size="12" text-anchor="middle" textLength="111.00" lengthAdjust="spacingAndGlyphs" class="big">Time (MJD - 53000)</text>
<text class="big" transform="translate(13.75,163.60) rotate(-90)" x="0" y="0" font-size="12" textLength="43.20" lengthAdjust="spacingAndGlyphs">Column</text>
<text class="big" transform="translate(13.75,115.90) rotate(-90)" x="0" y="0" font-size="12" textLength="43.30" lengthAdjust="spacingAndGlyphs">Density</text>
<text class="big" transform="translate(13.75,70.20) rotate(-90)" x="0" y="0" font-size="12" textLength="68.40" lengthAdjust="spacingAndGlyphs">(10<tspan dy="-4.6" font-size="8.4">23</tspan><tspan dy="4.6"> cm</tspan><tspan dy="-4.6" font-size="8.4">−2</tspan><tspan dy="4.6">)</tspan></text>
<text class="big" transform="translate(14.70,263.80) rotate(-90)" x="0" y="0" font-size="12" textLength="32.20" lengthAdjust="spacingAndGlyphs">log(<tspan font-style="italic">ξ</tspan>)</text>
<text class="big" transform="translate(12.60,441.90) rotate(-90)" x="0" y="0" font-size="12" textLength="57.70" lengthAdjust="spacingAndGlyphs">log(r<tspan dy="2.2" font-size="8.4">launch</tspan><tspan dy="-2.2">)</tspan></text>
<text class="big" transform="translate(8.80,620.70) rotate(-90)" x="0" y="0" font-size="12" textLength="85.50" lengthAdjust="spacingAndGlyphs">Velocity (km/s)</text>
</svg>
</body></html>
